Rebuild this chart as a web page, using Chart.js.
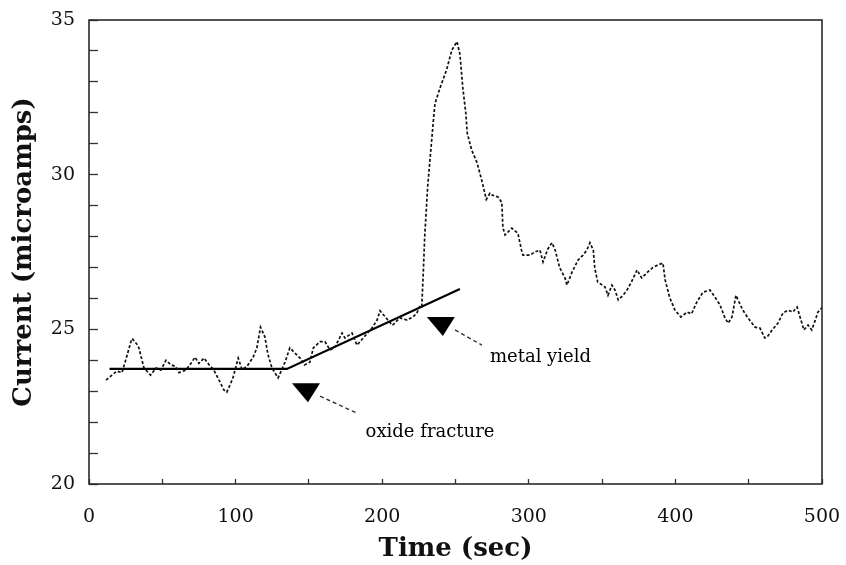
<!DOCTYPE html>
<html><head><meta charset="utf-8">
<script src="https://cdn.jsdelivr.net/npm/chart.js@4.4.1/dist/chart.umd.min.js"></script>
<style>html,body{margin:0;padding:0;background:#fff}#wrap{width:846px;height:565px;position:relative}</style>
</head><body><div id="wrap"><canvas id="c" width="846" height="565"></canvas></div>
<script>
// ---- data ----
const timeSec = [11.6,15.7,19,22.5,25,28.6,29.5,33,34,37.5,42,45.7,49,52.5,56,59,61.4,66,69.6,72.3,75,78.5,82,85,88.7,92,94,98,101.8,104.4,107.7,112,114.5,117,120,122,124.8,129,133.7,137,140.5,144,147,150.7,153,157.6,161,164.4,167.8,172.6,174.6,179.4,182.8,187,190,193,196.5,198.5,203,207,212,217,221,223.6,226,227,228,229,231,233,235,236,239.4,244,247.5,251,253,255,257,258,261,264.6,268,271,273.5,275,279,281.6,282.3,283.8,288.4,292.6,295,296,301,304,307.6,309.7,313,315.8,318,321,324.7,326,329.5,333.6,337,339.6,341.7,344,345,347,352,354,356.7,358.8,361,364.3,367,370,373.8,377,381,384.7,388,391.5,393,396,399.7,403.7,408,411,414.6,418.8,423.6,427,430.4,433.8,436,438.6,441.3,442.7,446,449.5,454.3,457.7,461,462.6,466,470,473.4,476.8,480.2,483,485,487.7,490.5,493,495,497.3,500];
const currentUA = [23.36,23.52,23.65,23.6,24.0,24.6,24.7,24.5,24.4,23.75,23.52,23.75,23.68,24.0,23.85,23.8,23.6,23.68,23.9,24.1,23.9,24.07,23.85,23.7,23.36,23.04,22.97,23.4,24.07,23.7,23.8,24.1,24.4,25.07,24.75,24.2,23.75,23.43,23.94,24.4,24.23,24.07,23.85,23.94,24.4,24.6,24.6,24.33,24.43,24.88,24.72,24.88,24.49,24.72,24.88,25.04,25.3,25.6,25.35,25.13,25.37,25.3,25.4,25.52,25.78,25.75,26.8,28.0,29.6,30.7,31.8,32.3,32.8,33.4,34.03,34.3,33.9,32.8,32.0,31.35,30.8,30.4,29.8,29.2,29.4,29.34,29.28,29.1,28.3,28.05,28.27,28.1,27.56,27.4,27.4,27.5,27.56,27.18,27.6,27.8,27.56,27.0,26.66,26.43,26.85,27.24,27.4,27.56,27.8,27.56,26.98,26.53,26.37,26.1,26.43,26.27,25.95,26.1,26.27,26.53,26.92,26.66,26.85,27.0,27.08,27.14,26.6,26.04,25.62,25.4,25.56,25.5,25.88,26.2,26.27,26.04,25.79,25.37,25.2,25.4,26.1,25.95,25.62,25.37,25.07,25.04,24.72,24.75,24.98,25.2,25.53,25.62,25.56,25.72,25.4,24.98,25.14,24.98,25.24,25.56,25.7];
const fitTime = [14, 135, 253];
const fitCurrent = [23.72, 23.72, 26.3];
const yTickLabels = [20, 25, 30, 35];
const xTickLabels = [0, 100, 200, 300, 400, 500];
const annotationText = ['oxide fracture', 'metal yield'];
const markerTime = [148, 240];
const markerCurrent = [23.26, 25.4];
const leaderTime = [[157.6, 182.8], [249.7, 268]];
const leaderCurrent = [[22.84, 22.29], [24.98, 24.49]];
const labelTime = [232.6, 273.5];
const labelCurrent = [21.68, 24.1];

// ---- chart ----
const serif = 'DejaVu Serif';
const xy = (xs, ys) => xs.map((x, i) => ({x, y: ys[i]}));
const datasets = [
  {data: xy(timeSec, currentUA), borderColor: '#111', borderWidth: 1.7, borderDash: [3, 2], pointRadius: 0, tension: 0, fill: false},
  {data: xy(fitTime, fitCurrent), borderColor: '#000', borderWidth: 2.2, pointRadius: 0, tension: 0, fill: false}
];
leaderTime.forEach((lt, i) => datasets.push({data: xy(lt, leaderCurrent[i]), borderColor: '#333', borderWidth: 1.4, borderDash: [4, 3], pointRadius: 0, fill: false}));

const decor = {
  id: 'decor',
  afterDatasetsDraw(chart) {
    const {ctx, chartArea: a, scales: {x, y}} = chart;
    ctx.save();
    ctx.strokeStyle = '#2a2a2a'; ctx.lineWidth = 1.6;
    ctx.strokeRect(a.left, a.top, a.right - a.left, a.bottom - a.top);
    ctx.fillStyle = '#000';
    markerTime.forEach((t, i) => {
      const px = x.getPixelForValue(t), py = y.getPixelForValue(markerCurrent[i]);
      ctx.beginPath();
      ctx.moveTo(px - 14, py); ctx.lineTo(px + 14, py); ctx.lineTo(px + 2, py + 19); ctx.closePath();
      ctx.fill();
    });
    ctx.font = '18px "' + serif + '"';
    ctx.textBaseline = 'middle';
    annotationText.forEach((s, i) => {
      ctx.textAlign = i === 0 ? 'center' : 'left';
      ctx.fillText(s, x.getPixelForValue(labelTime[i]), y.getPixelForValue(labelCurrent[i]));
    });
    ctx.restore();
  }
};

new Chart(document.getElementById('c'), {
  type: 'line',
  data: {datasets},
  options: {
    responsive: false, animation: false,
    layout: {padding: {left: 0, right: 24, top: 20, bottom: 0}},
    plugins: {legend: {display: false}, tooltip: {enabled: false}},
    scales: {
      x: {
        type: 'linear', min: 0, max: 500,
        border: {display: false},
        grid: {drawOnChartArea: false, tickLength: -5, tickColor: '#333', tickWidth: 1.3},
        ticks: {stepSize: 50, autoSkip: false, maxRotation: 0, padding: 27, color: '#111',
          font: {family: serif, size: 19},
          callback: v => xTickLabels.includes(v) ? String(v) : ''},
        title: {display: true, text: 'Time (sec)', color: '#111', padding: {top: 0, bottom: 0},
          font: {family: serif, size: 26, weight: 'bold'}},
        afterFit: s => { s.height = 81; s.paddingLeft = 0; s.paddingRight = 0; }
      },
      y: {
        type: 'linear', min: 20, max: 35,
        border: {display: false},
        grid: {drawOnChartArea: false, tickLength: -9, tickColor: '#333', tickWidth: 1.3},
        ticks: {stepSize: 1, autoSkip: false, padding: 23, color: '#111',
          font: {family: serif, size: 19},
          callback: v => yTickLabels.includes(v) ? String(v) : ''},
        title: {display: true, text: 'Current (microamps)', color: '#111', padding: {top: 9, bottom: 0},
          font: {family: serif, size: 26, weight: 'bold'}},
        afterFit: s => { s.width = 89; s.paddingTop = 0; s.paddingBottom = 0; }
      }
    }
  },
  plugins: [decor]
});
</script>
</body></html>
